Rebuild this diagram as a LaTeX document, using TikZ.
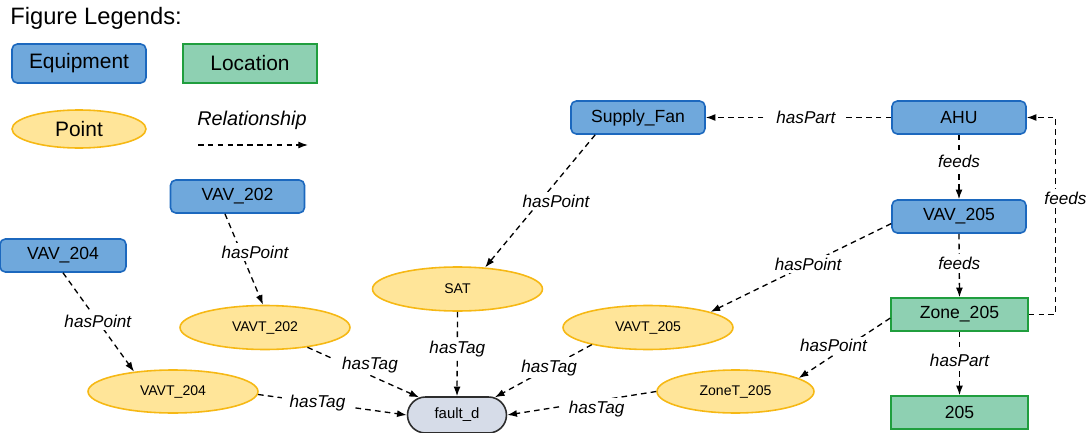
\documentclass[tikz,border=0pt]{standalone}
\usepackage{fontspec}
\setmainfont{Liberation Sans}
\usetikzlibrary{arrows.meta,shapes.geometric,shapes.misc}
\definecolor{eqfill}{RGB}{111,168,220}
\definecolor{eqdraw}{RGB}{28,104,190}
\definecolor{locfill}{RGB}{142,208,178}
\definecolor{locdraw}{RGB}{32,158,62}
\definecolor{ptfill}{RGB}{255,229,153}
\definecolor{ptdraw}{RGB}{246,184,20}
\definecolor{tagfill}{RGB}{214,220,232}
\definecolor{tagdraw}{RGB}{45,45,45}
\tikzset{
  equip/.style={draw=eqdraw,fill=eqfill,rounded corners=3pt,line width=0.9pt,
    minimum width=2.68cm,minimum height=0.66cm,inner sep=0pt,font=\fontsize{10}{12}\selectfont},
  loc/.style={draw=locdraw,fill=locfill,line width=0.9pt,
    minimum width=2.74cm,minimum height=0.66cm,inner sep=0pt,font=\fontsize{10}{12}\selectfont},
  pointnode/.style={ellipse,draw=ptdraw,fill=ptfill,line width=0.9pt,
    minimum width=3.4cm,minimum height=0.88cm,inner sep=0pt,font=\fontsize{8}{10}\selectfont},
  tagnode/.style={rounded rectangle,draw=tagdraw,fill=tagfill,line width=0.9pt,
    minimum width=1.98cm,minimum height=0.72cm,inner sep=0pt,font=\fontsize{8.5}{10}\selectfont},
  rel/.style={dash pattern=on 3.2pt off 2.4pt,line width=0.75pt,-{Latex[length=5.5pt,width=4pt]}},
  lbl/.style={fill=white,inner xsep=4.5pt,inner ysep=1.5pt,font=\fontsize{9.75}{11}\selectfont\itshape}
}
\begin{document}
\begin{tikzpicture}[x=0.02cm,y=-0.02cm]
\useasboundingbox (0,0) rectangle (1090,433);

\node[anchor=west,inner sep=0pt,font=\fontsize{13.5}{16}\selectfont] (title) at (10,18) {Figure Legends:};
\node[equip,minimum height=0.78cm,font=\fontsize{11.9}{14}\selectfont] (legEquip) at (79,63.5) {Equipment};
\node[loc,minimum width=2.68cm,minimum height=0.78cm,font=\fontsize{11.9}{14}\selectfont] (legLoc) at (250,63.5) {Location};
\node[pointnode,minimum width=2.68cm,minimum height=0.76cm,font=\fontsize{11.9}{14}\selectfont] (legPoint) at (79,129) {Point};
\node[font=\fontsize{11.3}{13}\selectfont\itshape] (legRel) at (252,120) {Relationship};
\coordinate (relA) at (198,145);
\coordinate (relB) at (308,145);
\draw[rel] (relA) -- (relB);

\node[equip] (sf) at (638,117.5) {Supply\_Fan};
\node[equip] (ahu) at (959,117.5) {AHU};
\node[equip] (vav205) at (959,216.5) {VAV\_205};
\node[loc] (zone205) at (959.5,314.5) {Zone\_205};
\node[loc] (room205) at (959.5,412.5) {205};
\node[equip] (vav202) at (237.5,196.5) {VAV\_202};
\node[equip,minimum width=2.52cm] (vav204) at (63,255.5) {VAV\_204};

\node[pointnode] (sat) at (457.5,289) {SAT};
\node[pointnode] (vavt202) at (265,327.5) {VAVT\_202};
\node[pointnode] (vavt205) at (648,327.5) {VAVT\_205};
\node[pointnode,minimum height=0.86cm] (vavt204) at (173,391.5) {VAVT\_204};
\node[pointnode,minimum width=3.14cm,minimum height=0.86cm] (zonet205) at (735.5,391.5) {ZoneT\_205};
\node[tagnode] (fault) at (457,415) {fault\_d};

\draw[rel] (ahu.west) -- node[lbl,pos=0.46] {hasPart} (sf.east);
\draw[rel] (ahu.south) -- node[lbl,pos=0.41] {feeds} (vav205.north);
\draw[rel] (vav205.south) -- node[lbl,pos=0.46] {feeds} (zone205.north);
\draw[rel] (zone205.south) -- node[lbl,pos=0.45] {hasPart} (room205.north);
\draw[rel] (zone205.east) -- ++(27,0) -- node[lbl,pos=0.59,xshift=5.5pt] {feeds} ++(0,-197) -- (ahu.east);

\draw[rel] (sf.202) -- node[lbl,pos=0.5,xshift=9pt] {hasPoint} (sat.38);
\draw[rel] (vav205.186) -- node[lbl,pos=0.46] {hasPoint} (vavt205.14);
\draw[rel] (zone205.183) -- node[lbl,pos=0.62,yshift=5.5pt] {hasPoint} (zonet205.12);
\draw[rel] (vav202.234) -- node[lbl,pos=0.42,xshift=8pt] {hasPoint} (vavt202.95);
\draw[rel] (vav204.south) -- node[lbl,pos=0.49] {hasPoint} (vavt204.153);

\draw[rel] (sat.south) -- node[lbl,pos=0.44] {hasTag} (fault.north);
\draw[rel] (vavt202.335) -- node[lbl,pos=0.56,yshift=6pt] {hasTag} (fault.155);
\draw[rel] (vavt205.197) -- node[lbl,pos=0.44] {hasTag} (fault.25);
\draw[rel] (vavt204.-2) -- node[lbl,pos=0.4] {hasTag} (fault.west);
\draw[rel] (zonet205.west) -- node[lbl,pos=0.4,yshift=-4.5pt] {hasTag} (fault.east);
\end{tikzpicture}
\end{document}
